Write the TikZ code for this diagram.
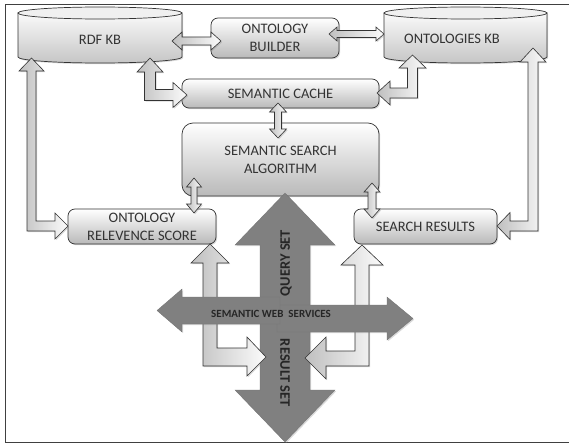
\documentclass[tikz,border=0pt]{standalone}
\usepackage{fontspec}
\setmainfont{Carlito}
\usetikzlibrary{shadows}
\tikzset{
  box/.style={draw=black!80, line width=0.7pt, top color=white, bottom color=gray!55,
    align=center, inner sep=0pt, text=black!80, font=\fontsize{14.5}{18}\selectfont,
    drop shadow={opacity=0.3, shadow xshift=1.2pt, shadow yshift=-1.2pt}},
  larrow/.style={draw=black!80, line width=0.6pt, left color=gray!50, right color=gray!3,
    drop shadow={opacity=0.3, shadow xshift=1.2pt, shadow yshift=-1.2pt}},
  darrow/.style={draw=black!55, line width=0.3pt, fill=black!50,
    drop shadow={opacity=0.3, shadow xshift=1.2pt, shadow yshift=-1.2pt}},
  cylbody/.style={draw=black!80, line width=0.7pt, top color=gray!4, bottom color=gray!45,
    drop shadow={opacity=0.3, shadow xshift=1.2pt, shadow yshift=-1.2pt}},
  cyltop/.style={draw=black!80, line width=0.7pt, fill=gray!12},
  lbl/.style={text=black!80, font=\fontsize{14.5}{18}\selectfont, inner sep=0pt},
  blbl/.style={text=black!85, font=\fontsize{14.5}{18}\selectfont\bfseries, inner sep=0pt},
}
\begin{document}
\begin{tikzpicture}[x=1pt,y=-1pt]
\useasboundingbox (0,0) rectangle (569,444);
% frame
\draw[black!75, line width=1.2pt] (575,4.5) -- (5.5,4.5) -- (5.5,442.5) -- (575,442.5);

% cylinders
\path[cylbody] (18,13) -- (18,57) arc[start angle=180, end angle=0, x radius=82, y radius=6] -- (182,13) -- cycle;
\path[cyltop] (100,13) ellipse [x radius=82, y radius=6];
\node[lbl] (rdf) at (100,40) {RDF KB};

\path[cylbody] (384,13) -- (384,57) arc[start angle=180, end angle=0, x radius=81.5, y radius=6] -- (547,13) -- cycle;
\path[cyltop] (465.5,13) ellipse [x radius=81.5, y radius=6];
\node[lbl] (ontkb) at (452,39) {ONTOLOGIES KB};

% boxes
\node[box, rounded corners=7pt, minimum width=128pt, minimum height=40pt] (builder) at (275,38) {ONTOLOGY\\BUILDER};
\node[box, rounded corners=7pt, minimum width=197pt, minimum height=29pt] (cache) at (280.5,93.5) {SEMANTIC CACHE};
\node[box, rounded corners=11pt, minimum width=197pt, minimum height=73pt] (algo) at (280.5,159.5) {SEMANTIC SEARCH\\ALGORITHM};
\node[box, rounded corners=7pt, minimum width=148pt, minimum height=35pt] (ors) at (142,226.5) {ONTOLOGY\\RELEVENCE SCORE};
\node[box, rounded corners=7pt, minimum width=143pt, minimum height=35pt] (sr) at (425.5,226.5) {SEARCH RESULTS};

% small block arrows
\draw[larrow] (172,41) -- (182,32) -- (182,37) -- (211,37) -- (211,32) -- (221,41) -- (211,50) -- (211,45) -- (182,45) -- (182,50) -- cycle;
\draw[larrow] (329,34) -- (337,27) -- (337,30.5) -- (376,30.5) -- (376,27) -- (384,34) -- (376,41) -- (376,37.5) -- (337,37.5) -- (337,41) -- cycle;
\draw[larrow] (150,58) -- (163,72) -- (155.5,72) -- (155.5,89.5) -- (173,89.5) -- (173,82.5) -- (187,95) -- (173,107.5) -- (173,100.5) -- (144.5,100.5) -- (144.5,72) -- (137,72) -- cycle;
\draw[larrow] (412.5,55) -- (426,68) -- (417.5,68) -- (417.5,98) -- (390,98) -- (390,105) -- (377,93) -- (390,81) -- (390,88) -- (407.5,88) -- (407.5,68) -- (399,68) -- cycle;
\draw[larrow] (278,103) -- (286.5,112) -- (281.5,112) -- (281.5,129) -- (286.5,129) -- (278,138) -- (269.5,129) -- (274.5,129) -- (274.5,112) -- (269.5,112) -- cycle;
\draw[larrow] (194,178) -- (201.5,187) -- (197,187) -- (197,204) -- (201.5,204) -- (194,213) -- (186.5,204) -- (191,204) -- (191,187) -- (186.5,187) -- cycle;
\draw[larrow] (372,183) -- (380,192) -- (376,192) -- (376,209) -- (380,209) -- (372,218) -- (364,209) -- (368,209) -- (368,192) -- (364,192) -- cycle;

% long elbow arrows
\draw[larrow] (31.5,58) -- (44,71) -- (36,71) -- (36,221) -- (55,221) -- (55,213) -- (68,226) -- (55,239) -- (55,231) -- (27,231) -- (27,71) -- (19,71) -- cycle;
\draw[larrow] (533,48) -- (546,62) -- (538,62) -- (538,231) -- (510,231) -- (510,239.5) -- (497,226) -- (510,212.5) -- (510,221) -- (528,221) -- (528,62) -- (520,62) -- cycle;

% central vertical dark arrow
\draw[darrow] (285,193) -- (335,245) -- (310,245) -- (310,390) -- (335,390) -- (285,442) -- (235,390) -- (260,390) -- (260,245) -- (235,245) -- cycle;

% lower elbow arrows
\draw[larrow] (210,244) -- (229,263) -- (217,263) -- (217,348) -- (247,348) -- (247,337) -- (266,357) -- (247,376) -- (247,366) -- (203,366) -- (203,263) -- (191,263) -- cycle;
\draw[larrow] (362,245) -- (383,265) -- (369,265) -- (369,366) -- (326,366) -- (326,379) -- (305,358) -- (326,337) -- (326,351) -- (355,351) -- (355,265) -- (341,265) -- cycle;

% horizontal dark arrows
\draw[darrow] (277,305) -- (387,305) -- (387,297) -- (413,318.5) -- (387,340) -- (387,332) -- (277,332) -- cycle;
\draw[darrow] (157,310.5) -- (182,289) -- (182,297) -- (280,297) -- (280,324) -- (182,324) -- (182,332) -- cycle;

% labels on dark arrows
\node[blbl, rotate=90] (qs) at (286,263) {QUERY SET};
\node[blbl, rotate=-90] (rs) at (285,373) {RESULT SET};
\node[text=black!85, font=\fontsize{11}{13}\selectfont\bfseries, inner sep=0pt] (sws) at (271,314) {SEMANTIC WEB\ \ SERVICES};
\end{tikzpicture}
\end{document}
